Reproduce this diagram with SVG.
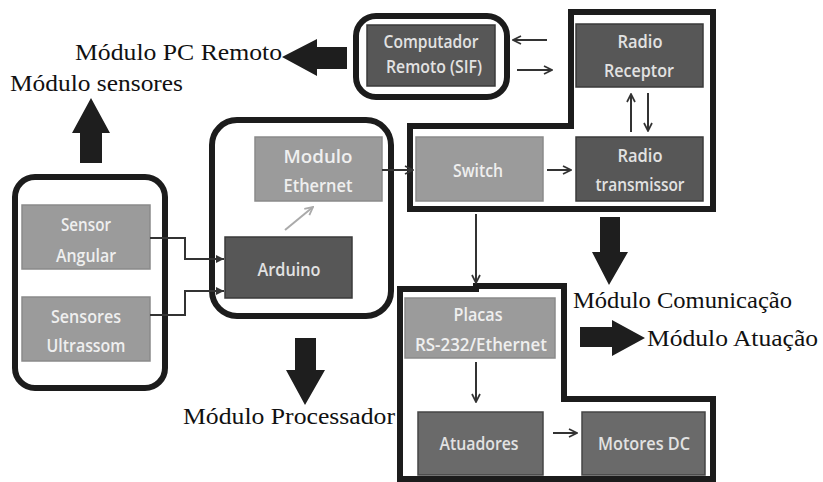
<svg xmlns="http://www.w3.org/2000/svg" width="823" height="482" viewBox="0 0 823 482">
<defs>
<style>
.grp{fill:none;stroke:#1c1c1c;stroke-width:6;stroke-linejoin:miter}
.dark{fill:#575757;stroke:#3a3a3a;stroke-width:1.5}
.mid{fill:#6a6a6a;stroke:#454545;stroke-width:1.5}
.light{fill:#9b9b9b;stroke:#8a8a8a;stroke-width:1.5}
.bt{font-family:"Open Sans","Noto Sans",sans-serif;font-size:18.5px;font-weight:600;fill:#e2e2e2;text-anchor:middle}
.lt{fill:#efefef}
.lab{font-family:"Liberation Serif","Times New Roman",serif;font-size:23px;fill:#111}
.con{fill:none;stroke:#333;stroke-width:2}
.big{fill:#1e1e1e}
</style>
<marker id="chev" viewBox="0 0 10 10" refX="9" refY="5" markerWidth="10" markerHeight="10" markerUnits="userSpaceOnUse" orient="auto">
<path d="M1,1 L9,5 L1,9" fill="none" stroke="#333" stroke-width="1.7"/>
</marker>
<marker id="chevg" viewBox="0 0 10 10" refX="9" refY="5" markerWidth="10" markerHeight="10" markerUnits="userSpaceOnUse" orient="auto">
<path d="M1,1 L9,5 L1,9" fill="none" stroke="#aaa" stroke-width="1.8"/>
</marker>
<marker id="tri" viewBox="0 0 10 10" refX="9" refY="5" markerWidth="10" markerHeight="10" markerUnits="userSpaceOnUse" orient="auto">
<path d="M1,1 L9,5 L1,9 Z" fill="#333"/>
</marker>
</defs>
<rect width="823" height="482" fill="#fff"/>

<g id="grupo-sensores">
<rect class="grp" x="15" y="177" width="150" height="211" rx="20"/>
</g>
<g id="grupo-processador">
<rect class="grp" x="212" y="120" width="179" height="196" rx="25"/>
</g>
<g id="grupo-pc">
<rect class="grp" x="356" y="16" width="151" height="81" rx="20"/>
</g>
<g id="grupo-comunicacao">
<path class="grp" d="M571,12 H713 V209 H410 V126 H571 Z"/>
</g>
<g id="grupo-atuacao">
<path class="grp" d="M400,289 H476 V286 H564 V399 H713 V479 H400 Z"/>
</g>

<g id="sensor-angular">
<rect class="light" x="22" y="205" width="128" height="64"/>
<text class="bt lt" x="86" y="231" textLength="50" lengthAdjust="spacingAndGlyphs">Sensor</text>
<text class="bt lt" x="86" y="262" textLength="60" lengthAdjust="spacingAndGlyphs">Angular</text>
</g>
<g id="sensores-ultrassom">
<rect class="light" x="22" y="297" width="128" height="64"/>
<text class="bt lt" x="86" y="323" textLength="70" lengthAdjust="spacingAndGlyphs">Sensores</text>
<text class="bt lt" x="86" y="352" textLength="79" lengthAdjust="spacingAndGlyphs">Ultrassom</text>
</g>
<g id="modulo-ethernet">
<rect class="light" x="255" y="137" width="127" height="64"/>
<text class="bt lt" x="318" y="163" textLength="69" lengthAdjust="spacingAndGlyphs">Modulo</text>
<text class="bt lt" x="318" y="192" textLength="69" lengthAdjust="spacingAndGlyphs">Ethernet</text>
</g>
<g id="arduino">
<rect class="dark" x="225" y="237" width="127" height="61"/>
<text class="bt" x="289" y="276" textLength="63" lengthAdjust="spacingAndGlyphs">Arduino</text>
</g>
<g id="computador">
<rect class="dark" x="367" y="25" width="128" height="61"/>
<text class="bt" x="431" y="48" textLength="95" lengthAdjust="spacingAndGlyphs">Computador</text>
<text class="bt" x="434" y="73" textLength="96" lengthAdjust="spacingAndGlyphs">Remoto (SIF)</text>
</g>
<g id="radio-receptor">
<rect class="dark" x="576" y="24" width="127" height="63"/>
<text class="bt" x="640" y="48" textLength="45" lengthAdjust="spacingAndGlyphs">Radio</text>
<text class="bt" x="639" y="77" textLength="70" lengthAdjust="spacingAndGlyphs">Receptor</text>
</g>
<g id="radio-transmissor">
<rect class="dark" x="576" y="137" width="127" height="64"/>
<text class="bt" x="640" y="162" textLength="45" lengthAdjust="spacingAndGlyphs">Radio</text>
<text class="bt" x="640" y="191" textLength="89" lengthAdjust="spacingAndGlyphs">transmissor</text>
</g>
<g id="switch">
<rect class="light" x="416" y="137" width="127" height="64"/>
<text class="bt lt" x="478" y="177" textLength="50" lengthAdjust="spacingAndGlyphs">Switch</text>
</g>
<g id="placas">
<rect class="light" x="405" y="298" width="150" height="60" stroke="#777"/>
<text class="bt lt" x="478" y="321" textLength="49" lengthAdjust="spacingAndGlyphs">Placas</text>
<text class="bt lt" x="481" y="351" textLength="132" lengthAdjust="spacingAndGlyphs">RS-232/Ethernet</text>
</g>
<g id="atuadores">
<rect class="mid" x="418" y="412" width="125" height="63"/>
<text class="bt" x="479" y="450" textLength="79" lengthAdjust="spacingAndGlyphs">Atuadores</text>
</g>
<g id="motores-dc">
<rect class="mid" x="582" y="412" width="123" height="63"/>
<text class="bt" x="644" y="450" textLength="92" lengthAdjust="spacingAndGlyphs">Motores DC</text>
</g>

<g id="conectores">
<polyline class="con" points="150,238 185,238 185,259 224,259" stroke-width="2.5" marker-end="url(#tri)"/>
<polyline class="con" points="150,315 185,315 185,291 224,291" stroke-width="2.5" marker-end="url(#tri)"/>
<line x1="285" y1="230" x2="313" y2="207" stroke="#aaa" stroke-width="2" marker-end="url(#chevg)"/>
<line class="con" x1="382" y1="170" x2="413" y2="170" marker-end="url(#chev)"/>
<line class="con" x1="547" y1="40" x2="513" y2="40" marker-end="url(#chev)"/>
<line class="con" x1="517" y1="70" x2="552" y2="70" marker-end="url(#chev)"/>
<line class="con" x1="547" y1="170" x2="571" y2="170" marker-end="url(#chev)"/>
<line class="con" x1="631" y1="132" x2="631" y2="94" marker-end="url(#chev)"/>
<line class="con" x1="648" y1="93" x2="648" y2="131" marker-end="url(#chev)"/>
<line class="con" x1="476" y1="214" x2="476" y2="283" marker-end="url(#chev)"/>
<line class="con" x1="476" y1="362" x2="476" y2="402" marker-end="url(#chev)"/>
<line class="con" x1="553" y1="433" x2="577" y2="433" marker-end="url(#chev)"/>
</g>

<g id="setas-modulos">
<polygon class="big" points="282,57 317,39 317,47 347,47 347,69 317,69 317,76"/>
<polygon class="big" points="91,98 110,133 102,133 102,163 80,163 80,133 72,133"/>
<polygon class="big" points="305,405 325,370 316,370 316,338 295,338 295,370 286,370"/>
<polygon class="big" points="609,285 628,252 620,252 620,217 600,217 600,252 592,252"/>
<polygon class="big" points="645,338 612,320 612,327 580,327 580,347 612,347 612,356"/>
</g>

<g id="rotulos">
<text class="lab" x="75" y="60" textLength="207" lengthAdjust="spacingAndGlyphs">Módulo PC Remoto</text>
<text class="lab" x="10" y="91" textLength="173" lengthAdjust="spacingAndGlyphs">Módulo sensores</text>
<text class="lab" x="183" y="424" textLength="212" lengthAdjust="spacingAndGlyphs">Módulo Processador</text>
<text class="lab" x="573" y="308" textLength="219" lengthAdjust="spacingAndGlyphs">Módulo Comunicação</text>
<text class="lab" x="647" y="346" textLength="171" lengthAdjust="spacingAndGlyphs">Módulo Atuação</text>
</g>
</svg>
